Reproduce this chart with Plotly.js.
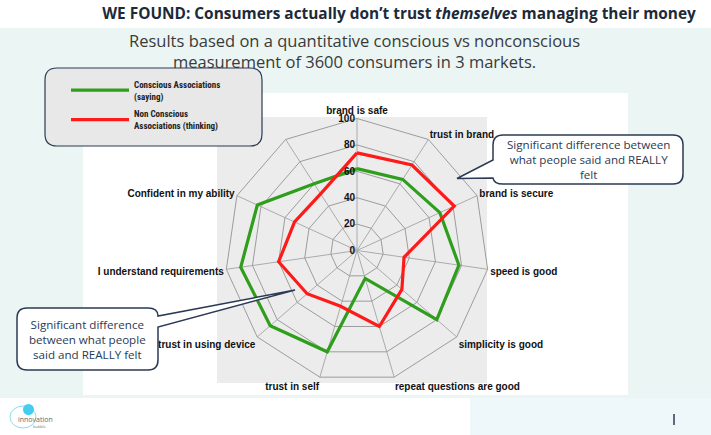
<!DOCTYPE html>
<html>
<head>
<meta charset="utf-8">
<script src="https://cdn.plot.ly/plotly-3.0.1.min.js"></script>
<style>html,body{margin:0;padding:0;background:#eaf5f4;}#chart{width:711px;height:435px;}</style>
</head>
<body>
<div id="chart"></div>
<script>
// ---- Data ----
// The 11th spoke's label is hidden behind the legend box in the reference.
var categories = ["brand is safe", "trust in brand", "brand is secure", "speed is good",
  "simplicity is good", "repeat questions are good", "trust in self", "trust in using device",
  "I understand requirements", "Confident in my ability", " "];
var consciousValues = [62, 64, 69, 78, 80, 22, 80, 87, 89, 83, 60];
var nonConsciousValues = [74, 77, 81, 36, 45, 60, 44, 50, 60, 52, 51];
var seriesNames = ["Conscious Associations<br>(saying)", "Non Conscious<br>Associations (thinking)"];
var radialTicks = [0, 20, 40, 60, 80, 100];

// ---- helpers (pixel -> paper, margins are zero) ----
var W = 711, H = 435;
function X(p) { return (p / W).toFixed(5); }
function Y(p) { return (1 - p / H).toFixed(5); }
function pt(x, y) { return X(x) + "," + Y(y); }
function rect(x0, y0, x1, y1, color) {
  return {type: "rect", xref: "paper", yref: "paper", x0: x0 / W, x1: x1 / W, y0: 1 - y1 / H, y1: 1 - y0 / H,
    fillcolor: color, line: {width: 0}, layer: "below"};
}
function roundRectPath(x0, y0, x1, y1, r) {
  return "M" + pt(x0 + r, y0) + " L" + pt(x1 - r, y0) + " Q" + pt(x1, y0) + " " + pt(x1, y0 + r) +
    " L" + pt(x1, y1 - r) + " Q" + pt(x1, y1) + " " + pt(x1 - r, y1) +
    " L" + pt(x0 + r, y1) + " Q" + pt(x0, y1) + " " + pt(x0, y1 - r) +
    " L" + pt(x0, y0 + r) + " Q" + pt(x0, y0) + " " + pt(x0 + r, y0) + " Z";
}
function closeLoop(a) { return a.concat([a[0]]); }

var navy = "#2b3a55";

// right callout: box with tail on the left edge
var rightCallout = "M" + pt(503, 135) + " L" + pt(673, 135) + " Q" + pt(683, 135) + " " + pt(683, 145) +
  " L" + pt(683, 174) + " Q" + pt(683, 184) + " " + pt(673, 184) +
  " L" + pt(503, 184) + " Q" + pt(494, 184) + " " + pt(493, 178) +
  " L" + pt(457, 178.5) + " L" + pt(493, 160) +
  " L" + pt(493, 145) + " Q" + pt(493, 135) + " " + pt(503, 135) + " Z";
// left callout: box with tail on the right edge
var leftCallout = "M" + pt(27, 308) + " L" + pt(148, 308) + " Q" + pt(158, 308) + " " + pt(158, 316) +
  " L" + pt(295, 290) + " L" + pt(158, 327) +
  " L" + pt(158, 360) + " Q" + pt(158, 370) + " " + pt(148, 370) +
  " L" + pt(27, 370) + " Q" + pt(17, 370) + " " + pt(17, 360) +
  " L" + pt(17, 318) + " Q" + pt(17, 308) + " " + pt(27, 308) + " Z";

var tickFont = {family: "Liberation Sans, Arial, sans-serif", size: 10, color: "#111", weight: "bold"};

var traces = [
  {type: "scatterpolar", mode: "lines", name: seriesNames[0], legendgroup: "c",
   r: closeLoop(consciousValues), theta: closeLoop(categories),
   line: {color: "#2f9e1c", width: 3.2}, hoverinfo: "r+theta"},
  {type: "scatterpolar", mode: "lines", name: seriesNames[1], legendgroup: "n",
   r: closeLoop(nonConsciousValues), theta: closeLoop(categories),
   line: {color: "#ff1a1a", width: 3.2}, hoverinfo: "r+theta"}
];

var layout = {
  width: W, height: H,
  margin: {l: 0, r: 0, t: 0, b: 0},
  paper_bgcolor: "#eaf5f4",
  showlegend: true,
  title: {text: "WE FOUND: Consumers actually don’t trust <i>themselves</i> managing their money",
    x: 399 / W, xanchor: "center", y: 1 - 14 / H, yanchor: "middle",
    font: {family: "Open Sans, Roboto, sans-serif", size: 15.4, color: "#1c2a3a", weight: "bold"}},
  legend: {x: 66 / W, y: 1 - 72 / H, xanchor: "left", yanchor: "top",
    bgcolor: "rgba(0,0,0,0)", borderwidth: 0, itemwidth: 58,
    font: {family: "Liberation Sans Narrow, Roboto Condensed, Roboto, sans-serif", size: 9, color: "#222", weight: "bold"},
    tracegroupgap: 3},
  polar: {
    domain: {x: [225 / W, 489 / W], y: [1 - 382.5 / H, 1 - 118.5 / H]},
    gridshape: "linear",
    bgcolor: "rgba(0,0,0,0)",
    angularaxis: {direction: "clockwise", rotation: 90, type: "category",
      categoryorder: "array", categoryarray: categories,
      showline: true, linecolor: "#9c9c9c", linewidth: 1,
      gridcolor: "#ababab", gridwidth: 1, ticks: "", tickfont: tickFont},
    radialaxis: {range: [0, 100], tickmode: "array", tickvals: radialTicks,
      angle: 90, side: "counterclockwise", showline: false, ticks: "",
      gridcolor: "#9c9c9c", gridwidth: 1, tickfont: tickFont, tickangle: 90}
  },
  shapes: [
    rect(0, 0, 711, 28, "#ffffff"),
    rect(83, 93, 628, 395, "#ffffff"),
    rect(0, 398, 711, 435, "#ffffff"),
    rect(470, 398, 711, 435, "#eef8fb"),
    rect(217, 117, 487, 383, "#ececec"),
    {type: "path", xref: "paper", yref: "paper", path: roundRectPath(45, 68, 262, 146, 12),
     fillcolor: "#e8e8e8", line: {color: navy, width: 1.2}, layer: "above"},
    {type: "path", xref: "paper", yref: "paper", path: rightCallout,
     fillcolor: "#ffffff", line: {color: navy, width: 1.5}, layer: "above"},
    {type: "path", xref: "paper", yref: "paper", path: leftCallout,
     fillcolor: "#ffffff", line: {color: navy, width: 1.5}, layer: "above"},
    // logo
    {type: "circle", xref: "paper", yref: "paper", x0: 10 / W, x1: 36 / W, y0: 1 - 428 / H, y1: 1 - 406 / H,
     line: {color: "#8adcf0", width: 1}, fillcolor: "rgba(0,0,0,0)", layer: "above"},
    {type: "circle", xref: "paper", yref: "paper", x0: 23 / W, x1: 34 / W, y0: 1 - 415 / H, y1: 1 - 404 / H,
     line: {width: 0}, fillcolor: "#45cdf0", layer: "above"},
    {type: "line", xref: "paper", yref: "paper", x0: 674 / W, x1: 674 / W, y0: 1 - 425 / H, y1: 1 - 414 / H,
     line: {color: navy, width: 1.5}, layer: "above"}
  ],
  annotations: [
    {text: "Results based on a quantitative conscious vs nonconscious<br>measurement of 3600 consumers in 3 markets.",
     xref: "paper", yref: "paper", x: 354 / W, y: 1 - 51 / H, xanchor: "center", yanchor: "middle",
     showarrow: false, font: {family: "Open Sans, sans-serif", size: 16.5, color: "#3a3a3a"}},
    {text: "Significant difference between<br>what people said and REALLY<br>felt",
     xref: "paper", yref: "paper", x: 588 / W, y: 1 - 159.5 / H, xanchor: "center", yanchor: "middle",
     showarrow: false, font: {family: "Open Sans, sans-serif", size: 11.6, color: navy}},
    {text: "Significant difference<br>between what people<br>said and REALLY felt",
     xref: "paper", yref: "paper", x: 87.5 / W, y: 1 - 339 / H, xanchor: "center", yanchor: "middle",
     showarrow: false, font: {family: "Open Sans, sans-serif", size: 11.6, color: navy}},
    {text: "innovation", xref: "paper", yref: "paper", x: 16 / W, y: 1 - 419 / H, xanchor: "left", yanchor: "middle",
     showarrow: false, font: {family: "Open Sans, sans-serif", size: 7, color: "#6a6a6a"}},
    {text: "bubble", xref: "paper", yref: "paper", x: 31 / W, y: 1 - 426 / H, xanchor: "left", yanchor: "middle",
     showarrow: false, font: {family: "Open Sans, sans-serif", size: 4, color: "#7a7a7a"}}
  ]
};

Plotly.newPlot("chart", traces, layout, {displayModeBar: false, responsive: false});
</script>
</body>
</html>
